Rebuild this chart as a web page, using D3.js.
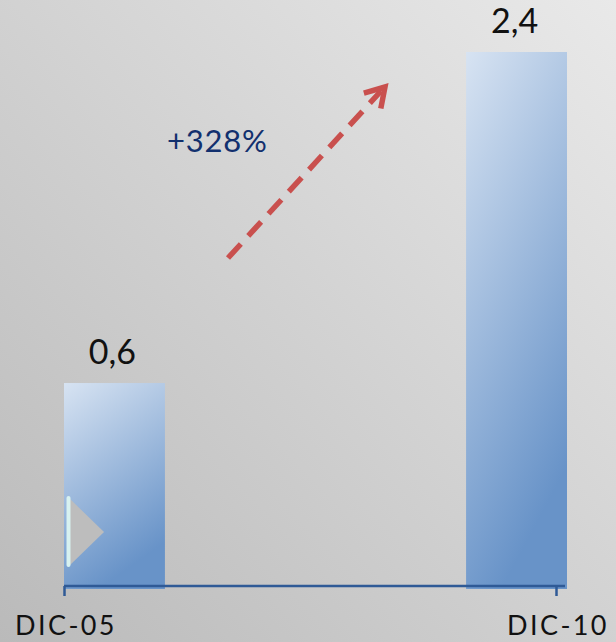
<!DOCTYPE html>
<html>
<head>
<meta charset="utf-8">
<script src="https://cdn.jsdelivr.net/npm/d3@7/dist/d3.min.js"></script>
<style>
  html, body { margin: 0; padding: 0; }
  body { width: 616px; height: 642px; overflow: hidden; }
  text { font-family: Lato, "Open Sans", sans-serif; }
</style>
</head>
<body>
<svg id="chart" width="616" height="642"></svg>
<script>
// Chart data
const categories = ["DIC-05", "DIC-10"];
const values = [0.6, 2.4];
const valueLabels = ["0,6", "2,4"];
const changeLabel = "+328%";

const W = 616, H = 642;
const svg = d3.select("#chart");
const defs = svg.append("defs");

// Background: soft diagonal grey gradient
const bg = defs.append("linearGradient").attr("id", "bg")
  .attr("x1", "1").attr("y1", "0").attr("x2", "0").attr("y2", "1");
bg.append("stop").attr("offset", "0").attr("stop-color", "#e9e9e9");
bg.append("stop").attr("offset", "1").attr("stop-color", "#bababa");
svg.append("rect").attr("width", W).attr("height", H).attr("fill", "url(#bg)");

// Bar fill gradient
const bar = defs.append("linearGradient").attr("id", "barFill")
  .attr("x1", "0").attr("y1", "0").attr("x2", "0.35").attr("y2", "1");
bar.append("stop").attr("offset", "0").attr("stop-color", "#d7e3f2");
bar.append("stop").attr("offset", "1").attr("stop-color", "#6893c8");

// Scales
const baseY = 589;
const y = d3.scaleLinear().domain([-0.52, 2.4]).range([baseY, 52]);
const xBar = d3.scaleBand().domain(categories).range([64, 567]).paddingInner(0.749).paddingOuter(0);
const xTick = d3.scalePoint().domain(categories).range([64, 556]);

// Bars
svg.selectAll("rect.bar").data(values).join("rect")
  .attr("class", "bar")
  .attr("x", (d, i) => xBar(categories[i]))
  .attr("y", d => y(d))
  .attr("width", xBar.bandwidth())
  .attr("height", d => baseY - y(d))
  .attr("fill", "url(#barFill)");

// Value labels
svg.selectAll("text.val").data(values).join("text")
  .attr("class", "val")
  .attr("x", (d, i) => xBar(categories[i]) + xBar.bandwidth() / 2 - 2)
  .attr("y", d => y(d) - 19)
  .attr("text-anchor", "middle")
  .attr("font-size", 34)
  .attr("fill", "#111")
  .text((d, i) => valueLabels[i]);

// Axis
const axisG = svg.append("g").attr("transform", `translate(0,${baseY - 3})`);
axisG.call(d3.axisBottom(xTick).tickSize(10).tickSizeOuter(0).tickFormat(""));
axisG.select(".domain").attr("d", "M64,0H565").attr("stroke", "#2f5a96").attr("stroke-width", 2.5);
axisG.selectAll(".tick line").attr("stroke", "#2f5a96").attr("stroke-width", 2.5);

// Category labels, centred under the ticks
svg.selectAll("text.cat").data(categories).join("text")
  .attr("class", "cat")
  .attr("x", d => xTick(d) + 2)
  .attr("y", 635)
  .attr("text-anchor", "middle")
  .attr("font-size", 27)
  .attr("letter-spacing", "2.4px")
  .attr("fill", "#111")
  .text(d => d);

// Growth arrow (dashed)
const x0 = 228, y0 = 258, x1 = 385, y1 = 87;
svg.append("line")
  .attr("x1", x0).attr("y1", y0).attr("x2", x1 - 4).attr("y2", y1 + 4)
  .attr("stroke", "#c9504e").attr("stroke-width", 5.5)
  .attr("stroke-dasharray", "19,11");
const ang = Math.atan2(y1 - y0, x1 - x0);
const hl = 22, ha = 0.55;
svg.append("path")
  .attr("d", `M${x1 - hl * Math.cos(ang - ha)},${y1 - hl * Math.sin(ang - ha)}L${x1},${y1}L${x1 - hl * Math.cos(ang + ha)},${y1 - hl * Math.sin(ang + ha)}`)
  .attr("fill", "none").attr("stroke", "#c9504e").attr("stroke-width", 5.5)
  .attr("stroke-linejoin", "miter");

svg.append("text")
  .attr("x", 167).attr("y", 152)
  .attr("font-size", 31)
  .attr("letter-spacing", "0.8px")
  .attr("fill", "#12306e")
  .text(changeLabel);

// Small marker on the first bar
svg.append("path")
  .attr("d", "M68,497L104,532L68,567Z")
  .attr("fill", "#bdbdbd");
svg.append("line")
  .attr("x1", 68.5).attr("y1", 498).attr("x2", 68.5).attr("y2", 565)
  .attr("stroke", "#d8f2f0").attr("stroke-width", 4).attr("stroke-linecap", "round");
</script>
</body>
</html>
